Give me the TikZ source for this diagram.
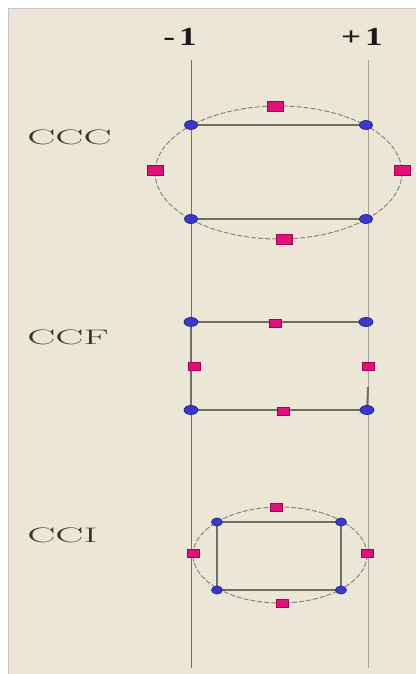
\documentclass[tikz,border=0pt]{standalone}
\usepackage{fontspec}
\newfontfamily\axisfont{Liberation Serif}
\usetikzlibrary{shapes.geometric}
\definecolor{panel}{RGB}{235,230,214}
\definecolor{dotblue}{RGB}{58,58,200}
\definecolor{dotedge}{RGB}{35,35,130}
\definecolor{pinkfill}{RGB}{222,18,122}
\definecolor{pinkedge}{RGB}{165,0,85}
\definecolor{rectline}{RGB}{110,110,98}
\definecolor{refline}{RGB}{115,115,105}
\definecolor{ellline}{RGB}{135,135,125}
\definecolor{labelgray}{RGB}{55,55,50}
\begin{document}
\begin{tikzpicture}[x=1pt,y=-1pt,
  bluedot/.style={ellipse,draw=dotedge,line width=0.7pt,fill=dotblue,minimum width=13pt,minimum height=9pt,inner sep=0pt},
  pinkbig/.style={rectangle,draw=pinkedge,line width=0.6pt,fill=pinkfill,minimum width=16pt,minimum height=10pt,inner sep=0pt},
  pinksmall/.style={rectangle,draw=pinkedge,line width=0.6pt,fill=pinkfill,minimum width=12pt,minimum height=8pt,inner sep=0pt},
  edgeline/.style={draw=rectline,line width=1.6pt},
  ref/.style={draw=refline,line width=1pt},
  ellipsedash/.style={draw=ellline,line width=1pt,dash pattern=on 5pt off 2pt},
  rowlabel/.style={font=\rmfamily\fontsize{21}{21}\selectfont,text=labelgray,xscale=2.0,inner sep=0pt,anchor=west},
  axislabel/.style={font=\axisfont\bfseries\fontsize{26}{26}\selectfont,text=black!90,inner sep=0pt,xscale=1.35}
]
\useasboundingbox (0,0) rectangle (416,674);
\fill[white] (0,0) rectangle (416,674);
\fill[panel] (8,8) rectangle (416,674);
\draw[gray!45,line width=0.8pt] (8,674) -- (8,8) -- (416,8);

% axis labels
\node[axislabel] (m1) at (180,37) {-\hspace{3pt}1};
\node[axislabel] (p1) at (362,37) {+\hspace{3pt}1};

% reference lines
\coordinate (lt) at (191,60);
\coordinate (lb) at (191,668);
\coordinate (rt) at (368,60);
\coordinate (rb) at (368,668);
\draw[ref] (lt) -- (lb);
\draw[ref,draw=refline!65] (rt) -- (rb);

% row labels
\node[rowlabel] (lccc) at (27,137) {CCC};
\node[rowlabel] (lccf) at (27,337) {CCF};
\node[rowlabel] (lcci) at (27,535) {CCI};

% ===== CCC =====
\draw[ellipsedash] (278.5,172.5) ellipse [x radius=123.5, y radius=66.5];
\coordinate (a1) at (191,125);
\coordinate (a2) at (366,125);
\coordinate (a3) at (191,219);
\coordinate (a4) at (366,219);
\draw[edgeline] (a1) -- (a2);
\draw[edgeline] (a3) -- (a4);
\node[bluedot] (A1) at (a1) {};
\node[bluedot] (A2) at (a2) {};
\node[bluedot] (A3) at (a3) {};
\node[bluedot] (A4) at (a4) {};
\node[pinkbig] (AT) at (275,106) {};
\node[pinkbig] (AB) at (284,239) {};
\node[pinkbig] (AL) at (155,170) {};
\node[pinkbig] (AR) at (402,170) {};

% ===== CCF =====
\coordinate (b1) at (191,322);
\coordinate (b2) at (366,322);
\coordinate (b3) at (191,410);
\coordinate (b4) at (367,410);
\coordinate (bs) at (368,387);
\draw[edgeline] (b1) -- (b2);
\draw[edgeline,line width=1.3pt] (b3) -- (b4);
\draw[edgeline,line width=2.4pt] (b1) -- (b3);
\draw[edgeline,line width=1.8pt] (bs) -- (b4);
\node[bluedot,minimum width=14pt] (B1) at (b1) {};
\node[bluedot,minimum width=14pt] (B2) at (b2) {};
\node[bluedot,minimum width=14pt] (B3) at (b3) {};
\node[bluedot,minimum width=14pt] (B4) at (b4) {};
\node[pinksmall] (BT) at (275,323) {};
\node[pinksmall] (BB) at (283,411) {};
\node[pinksmall] (BL) at (194,366) {};
\node[pinksmall] (BR) at (368,366) {};

% ===== CCI =====
\draw[ellipsedash] (280,555) ellipse [x radius=87, y radius=48];
\coordinate (c1) at (217,522);
\coordinate (c2) at (341,522);
\coordinate (c3) at (217,590);
\coordinate (c4) at (341,590);
\draw[edgeline,line width=1.4pt] (c1) -- (c2) -- (c4) -- (c3) -- cycle;
\node[bluedot,minimum width=11pt,minimum height=8pt] (C1) at (c1) {};
\node[bluedot,minimum width=11pt,minimum height=8pt] (C2) at (c2) {};
\node[bluedot,minimum width=11pt,minimum height=8pt] (C3) at (c3) {};
\node[bluedot,minimum width=11pt,minimum height=8pt] (C4) at (c4) {};
\node[pinksmall] (CT) at (276,507) {};
\node[pinksmall] (CB) at (282,603) {};
\node[pinksmall] (CL) at (193,553) {};
\node[pinksmall] (CR) at (367,553) {};
\end{tikzpicture}
\end{document}
